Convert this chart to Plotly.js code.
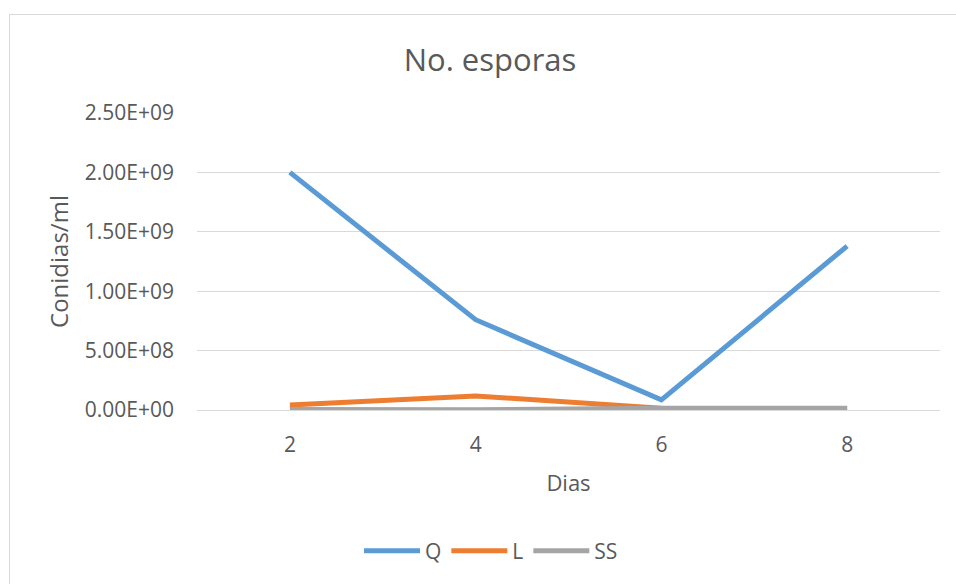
<!DOCTYPE html>
<html>
<head>
<meta charset="utf-8">
<script src="https://cdn.plot.ly/plotly-3.0.1.min.js"></script>
<style>
html,body{margin:0;padding:0;background:#fff;overflow:hidden;}
#frame{position:absolute;left:9px;top:14px;width:1000px;height:620px;border:1px solid #d9d9d9;box-sizing:border-box;pointer-events:none;z-index:5;}
#chart{position:absolute;left:0;top:0;width:956px;height:584px;}
</style>
</head>
<body>
<div id="chart"></div>
<div id="frame"></div>
<script>
const categories = ["2", "4", "6", "8"];
const seriesNames = ["Q", "L", "SS"];
const qValues = [2.0e9, 7.6e8, 8.5e7, 1.38e9];
const lValues = [4.2e7, 1.18e8, 1.5e7, 1.2e7];
const ssValues = [5e6, 2e6, 1.5e7, 1.5e7];
const yTicks = [0, 5e8, 1e9, 1.5e9, 2e9, 2.5e9];
const yTickLabels = ["0.00E+00", "5.00E+08", "1.00E+09", "1.50E+09", "2.00E+09", "2.50E+09"];

const colors = ["#5B9BD5", "#ED7D31", "#A5A5A5"];
const values = [qValues, lValues, ssValues];

const traces = values.map((v, i) => ({
  x: categories,
  y: v,
  name: seriesNames[i],
  type: "scatter",
  mode: "lines",
  line: {color: colors[i], width: 5},
  hoverinfo: "skip"
}));

const font = "'Open Sans', 'Noto Sans', sans-serif";
const layout = {
  width: 956,
  height: 584,
  margin: {l: 197, r: 16, t: 113, b: 174},
  paper_bgcolor: "#ffffff",
  plot_bgcolor: "#ffffff",
  font: {family: font, color: "#595959", size: 21},
  title: {
    text: "No. esporas",
    font: {family: font, size: 31, color: "#595959"},
    xref: "container", x: 490 / 956, xanchor: "center",
    yref: "container", y: 1 - 60 / 584, yanchor: "middle"
  },
  xaxis: {
    type: "category",
    range: [-0.5, 3.5],
    showgrid: false,
    showline: false,
    zeroline: false,
    ticks: "",
    ticklabelstandoff: 20,
    tickfont: {size: 21, color: "#595959"},
    title: {text: "Dias", font: {size: 22, color: "#595959"}, standoff: 18}
  },
  yaxis: {
    range: [0, 2.5e9],
    tickvals: yTicks,
    ticktext: yTickLabels,
    showgrid: true,
    gridcolor: "#d9d9d9",
    gridwidth: 1,
    zeroline: true,
    zerolinecolor: "#d9d9d9",
    zerolinewidth: 1,
    showline: false,
    ticks: "",
    ticklabelstandoff: 22,
    tickfont: {size: 21, color: "#595959"},
    title: {text: "Conidias/ml", font: {size: 24, color: "#595959"}, standoff: 9}
  },
  showlegend: true,
  legend: {
    orientation: "h",
    xref: "paper", x: (491 - 197) / 743, xanchor: "center",
    yref: "paper", y: (410 - 551) / 297, yanchor: "middle",
    font: {size: 21, color: "#595959"},
    itemwidth: 56,
    tracegroupgap: 0,
    bgcolor: "rgba(0,0,0,0)"
  }
};

Plotly.newPlot("chart", traces, layout, {displayModeBar: false, staticPlot: true});
</script>
</body>
</html>
